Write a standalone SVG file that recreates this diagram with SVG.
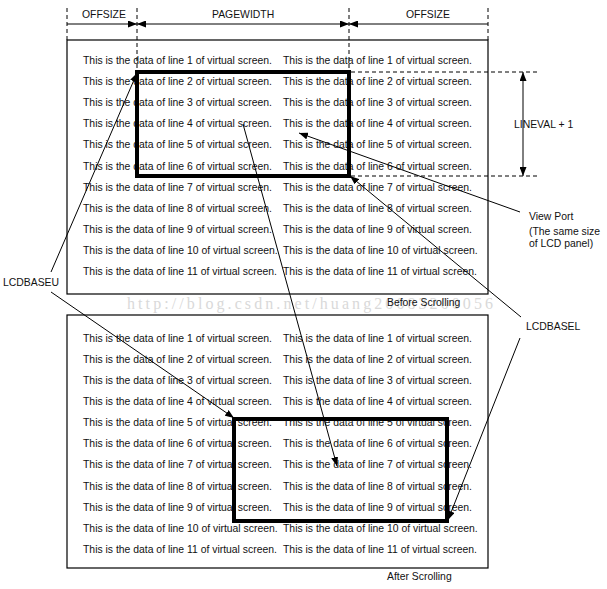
<svg xmlns="http://www.w3.org/2000/svg" width="607" height="589" viewBox="0 0 607 589">
<style>
  .t { font-family: "Liberation Sans", Arial, sans-serif; font-size: 10.4px; fill: #111; }
  .ln { stroke: #000; stroke-width: 1; fill: none; }
  .dash { stroke: #000; stroke-width: 1; stroke-dasharray: 4 3; fill: none; }
  .box { stroke: #000; stroke-width: 1.2; fill: none; }
  .thick { stroke: #000; stroke-width: 4; fill: none; }
  .wm { font-family: "Liberation Serif", "Times New Roman", serif; font-size: 16px; fill: #d9d9d9; }
</style>
<defs>
  <marker id="arr" markerUnits="userSpaceOnUse" markerWidth="9" markerHeight="7" refX="9" refY="3.5" orient="auto-start-reverse">
    <path d="M0,0 L9,3.5 L0,7 z" fill="#000"/>
  </marker>
</defs>
<rect width="607" height="589" fill="#fff"/>

<text class="wm" x="127" y="309" textLength="366" lengthAdjust="spacing">http://blog.csdn.net/huang20083200056</text>

<g id="dimension">
  <line class="dash" x1="67" y1="8" x2="67" y2="40"/>
  <line class="dash" x1="137" y1="8" x2="137" y2="72"/>
  <line class="dash" x1="349" y1="8" x2="349" y2="72"/>
  <line class="dash" x1="488" y1="8" x2="488" y2="40"/>
  <text class="t" x="82" y="18">OFFSIZE</text>
  <text class="t" x="212" y="18">PAGEWIDTH</text>
  <text class="t" x="406" y="18">OFFSIZE</text>
</g>

<g id="before">
  <rect class="box" x="67" y="40" width="421" height="254"/>
  <g class="t">
    <text x="83" y="64">This is the data of line 1 of virtual screen.</text>
    <text x="83" y="85.1">This is the data of line 2 of virtual screen.</text>
    <text x="83" y="106.2">This is the data of line 3 of virtual screen.</text>
    <text x="83" y="127.3">This is the data of line 4 of virtual screen.</text>
    <text x="83" y="148.4">This is the data of line 5 of virtual screen.</text>
    <text x="83" y="169.5">This is the data of line 6 of virtual screen.</text>
    <text x="83" y="190.6">This is the data of line 7 of virtual screen.</text>
    <text x="83" y="211.7">This is the data of line 8 of virtual screen.</text>
    <text x="83" y="232.8">This is the data of line 9 of virtual screen.</text>
    <text x="83" y="253.9">This is the data of line 10 of virtual screen.</text>
    <text x="83" y="275">This is the data of line 11 of virtual screen.</text>
    <text x="283" y="64">This is the data of line 1 of virtual screen.</text>
    <text x="283" y="85.1">This is the data of line 2 of virtual screen.</text>
    <text x="283" y="106.2">This is the data of line 3 of virtual screen.</text>
    <text x="283" y="127.3">This is the data of line 4 of virtual screen.</text>
    <text x="283" y="148.4">This is the data of line 5 of virtual screen.</text>
    <text x="283" y="169.5">This is the data of line 6 of virtual screen.</text>
    <text x="283" y="190.6">This is the data of line 7 of virtual screen.</text>
    <text x="283" y="211.7">This is the data of line 8 of virtual screen.</text>
    <text x="283" y="232.8">This is the data of line 9 of virtual screen.</text>
    <text x="283" y="253.9">This is the data of line 10 of virtual screen.</text>
    <text x="283" y="275">This is the data of line 11 of virtual screen.</text>
  </g>
  <text class="t" x="387" y="306">Before Scrolling</text>
</g>

<g id="viewport-before">
  <rect class="thick" x="137" y="72" width="212" height="104"/>
  <line class="dash" x1="351" y1="72" x2="540" y2="72"/>
  <line class="dash" x1="351" y1="176" x2="540" y2="176"/>
  <text class="t" x="514" y="128">LINEVAL + 1</text>
</g>

<g id="after">
  <rect class="box" x="67" y="315" width="421" height="253"/>
  <g class="t">
    <text x="83" y="342">This is the data of line 1 of virtual screen.</text>
    <text x="83" y="363.1">This is the data of line 2 of virtual screen.</text>
    <text x="83" y="384.1">This is the data of line 3 of virtual screen.</text>
    <text x="83" y="405.2">This is the data of line 4 of virtual screen.</text>
    <text x="83" y="426.3">This is the data of line 5 of virtual screen.</text>
    <text x="83" y="447.4">This is the data of line 6 of virtual screen.</text>
    <text x="83" y="468.4">This is the data of line 7 of virtual screen.</text>
    <text x="83" y="489.5">This is the data of line 8 of virtual screen.</text>
    <text x="83" y="510.6">This is the data of line 9 of virtual screen.</text>
    <text x="83" y="531.6">This is the data of line 10 of virtual screen.</text>
    <text x="83" y="552.7">This is the data of line 11 of virtual screen.</text>
    <text x="283" y="342">This is the data of line 1 of virtual screen.</text>
    <text x="283" y="363.1">This is the data of line 2 of virtual screen.</text>
    <text x="283" y="384.1">This is the data of line 3 of virtual screen.</text>
    <text x="283" y="405.2">This is the data of line 4 of virtual screen.</text>
    <text x="283" y="426.3">This is the data of line 5 of virtual screen.</text>
    <text x="283" y="447.4">This is the data of line 6 of virtual screen.</text>
    <text x="283" y="468.4">This is the data of line 7 of virtual screen.</text>
    <text x="283" y="489.5">This is the data of line 8 of virtual screen.</text>
    <text x="283" y="510.6">This is the data of line 9 of virtual screen.</text>
    <text x="283" y="531.6">This is the data of line 10 of virtual screen.</text>
    <text x="283" y="552.7">This is the data of line 11 of virtual screen.</text>
  </g>
  <text class="t" x="387" y="580">After Scrolling</text>
</g>

<g id="viewport-after">
  <rect class="thick" x="234" y="419" width="213" height="102"/>
</g>

<g id="labels">
  <text class="t" x="3" y="286">LCDBASEU</text>
  <text class="t" x="526" y="330">LCDBASEL</text>
  <text class="t" x="529" y="220">View Port</text>
  <text class="t" x="529" y="235">(The same size</text>
  <text class="t" x="529" y="247">of LCD panel)</text>
</g>

<g id="connectors">
  <line class="ln" x1="67" y1="24" x2="137" y2="24" marker-end="url(#arr)"/>
  <line class="ln" x1="137" y1="24" x2="349" y2="24" marker-start="url(#arr)" marker-end="url(#arr)"/>
  <line class="ln" x1="488" y1="24" x2="349" y2="24" marker-end="url(#arr)"/>
  <line class="ln" x1="523" y1="72" x2="523" y2="176" marker-start="url(#arr)" marker-end="url(#arr)"/>
  <line class="ln" x1="51" y1="272" x2="137" y2="73" marker-end="url(#arr)"/>
  <line class="ln" x1="51" y1="292" x2="234" y2="418" marker-end="url(#arr)"/>
  <line class="ln" x1="520" y1="212" x2="299" y2="133" marker-end="url(#arr)"/>
  <line class="ln" x1="521" y1="317" x2="350" y2="176" marker-end="url(#arr)"/>
  <line class="ln" x1="520" y1="338" x2="448" y2="520" marker-end="url(#arr)"/>
  <line class="ln" x1="243" y1="124" x2="337" y2="466" marker-end="url(#arr)"/>
</g>
</svg>
